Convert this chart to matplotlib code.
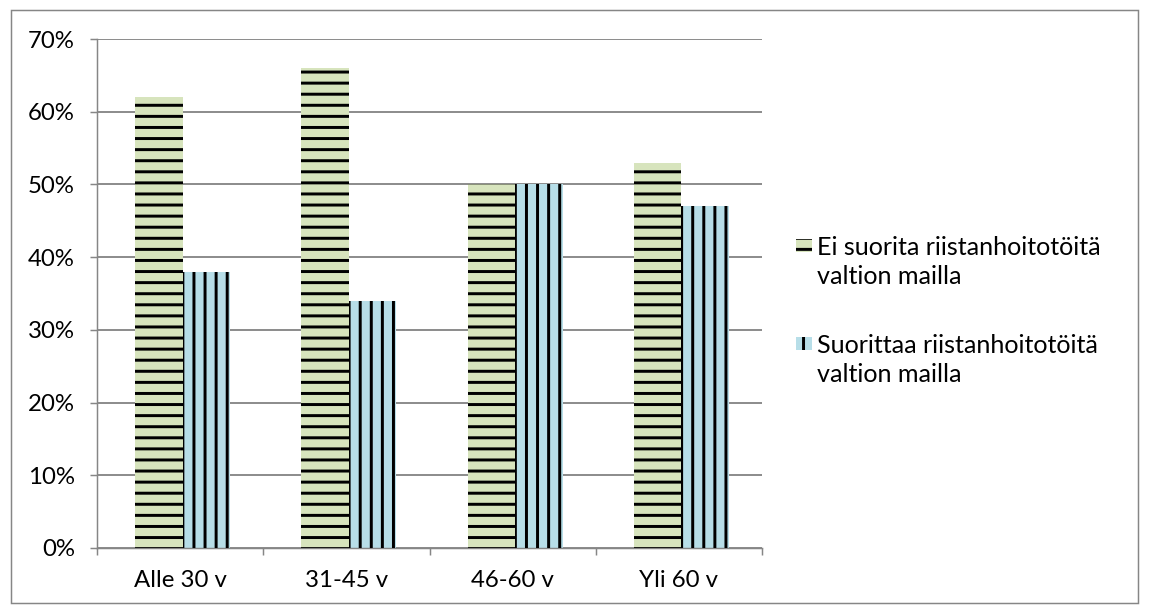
import numpy as np
import matplotlib.pyplot as plt
from matplotlib.patches import Rectangle
from matplotlib.ticker import FuncFormatter, FixedLocator

# Data
categories = ["Alle 30 v", "31-45 v", "46-60 v", "Yli 60 v"]
ei_suorita = [62, 66, 50, 53]
suorittaa = [38, 34, 50, 47]
labels = ["Ei suorita riistanhoitotöitä\nvaltion mailla",
          "Suorittaa riistanhoitotöitä\nvaltion mailla"]

green = "#D7E4BD"
blue = "#B7DEE8"
gray = "#868686"

DPI = 400 / 3
plt.rcParams["font.family"] = ["Lato", "DejaVu Sans"]
plt.rcParams["hatch.linewidth"] = 1.6

fig = plt.figure(figsize=(1150 / DPI, 612 / DPI), dpi=DPI)
ax = fig.add_axes([97 / 1150, 1 - 548 / 612, (762 - 97) / 1150, (548 - 39) / 612])

x = np.arange(len(categories))
w = 0.286
off = 0.015

# filled bars, then hatch overlay in black
ax.bar(x - w / 2 + off, ei_suorita, w, color=green, linewidth=0, zorder=2)
ax.bar(x + w / 2 + off, suorittaa, w, color=blue, linewidth=0, zorder=2)
ax.bar(x - w / 2 + off, ei_suorita, w, facecolor="none", edgecolor="black",
       hatch="--", linewidth=0, zorder=3)
ax.bar(x + w / 2 + off, suorittaa, w, facecolor="none", edgecolor="black",
       hatch="||", linewidth=0, zorder=3)

ax.set_xlim(-0.5, len(categories) - 0.5)
ax.set_ylim(0, 70)
ax.set_yticks(np.arange(0, 71, 10))
ax.yaxis.set_major_formatter(FuncFormatter(lambda v, p: f"{v:.0f}%"))
ax.yaxis.grid(True, color=gray, linewidth=1.0)
ax.set_axisbelow(True)

ax.set_xticks(x)
ax.set_xticklabels(categories)
ax.xaxis.set_minor_locator(FixedLocator(np.arange(-0.5, len(categories), 1)))
ax.tick_params(axis="x", which="major", length=0, pad=12, labelsize=13)
ax.tick_params(axis="x", which="minor", length=4, width=0.8, color=gray, direction="out")
ax.tick_params(axis="y", length=4, width=0.8, color=gray, pad=8, labelsize=13)

for s in ["top", "right"]:
    ax.spines[s].set_visible(False)
for s in ["left", "bottom"]:
    ax.spines[s].set_color(gray)
    ax.spines[s].set_linewidth(0.8)

# legend drawn by hand to keep the handle on the first text line
hatches = ["--", "||"]
colors = [green, blue]
line1_y = [245, 343]
for lab, col, h, ly in zip(labels, colors, hatches, line1_y):
    for fc, hh in [(col, None), ("none", h)]:
        fig.patches.append(Rectangle((796 / 1150, 1 - (ly + 7) / 612), 16 / 1150, 13 / 612,
                                     transform=fig.transFigure, facecolor=fc,
                                     edgecolor="black" if hh else "none", hatch=hh,
                                     linewidth=0))
    fig.text(817 / 1150, 1 - (ly + 17) / 612, lab, ha="left", va="center",
             fontsize=13.6, linespacing=1.3)

# outer chart border
fig.patches.append(Rectangle((11 / 1150, 1 - 603 / 612), 1127 / 1150, 593 / 612,
                             transform=fig.transFigure, facecolor="none",
                             edgecolor=gray, linewidth=0.8))

fig.savefig("out.png", dpi=DPI)
